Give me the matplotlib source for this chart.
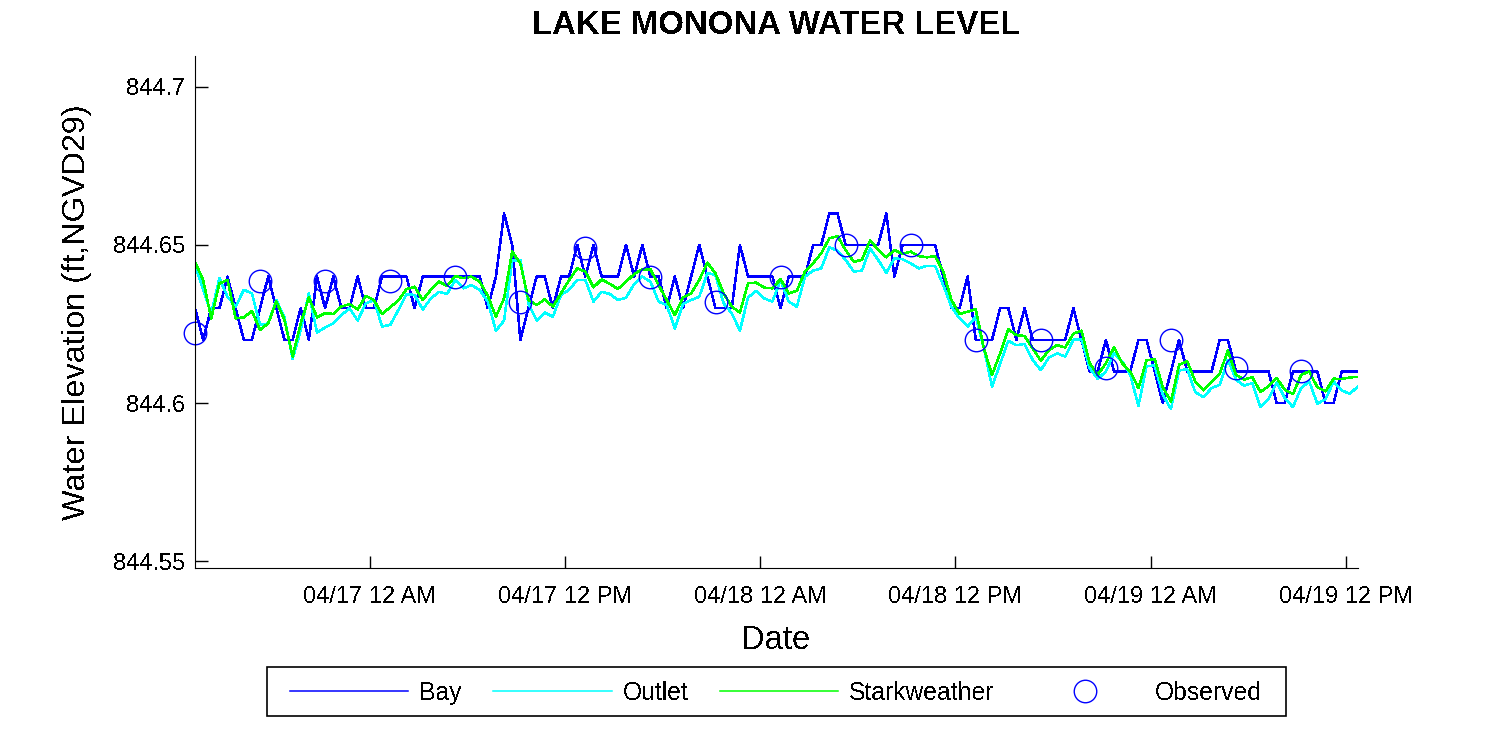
import pandas as pd
from matplotlib import pyplot as plt
from matplotlib.patches import Rectangle

plt.rcParams['font.family'] = ['Liberation Sans', 'DejaVu Sans']
plt.rcParams['text.antialiased'] = False

# half hourly model output, values in ft above NGVD29
times = pd.date_range('2013-04-16 13:15', periods=144, freq='30min')

bay = [
    844.63, 844.62, 844.63, 844.63, 844.64, 844.63, 844.62, 844.62, 844.63, 844.64, 844.63, 844.62,
    844.62, 844.63, 844.62, 844.64, 844.63, 844.64, 844.63, 844.63, 844.64, 844.63, 844.63, 844.64,
    844.64, 844.64, 844.64, 844.63, 844.64, 844.64, 844.64, 844.64, 844.64, 844.64, 844.64, 844.64,
    844.63, 844.64, 844.66, 844.65, 844.62, 844.63, 844.64, 844.64, 844.63, 844.64, 844.64, 844.65,
    844.64, 844.65, 844.64, 844.64, 844.64, 844.65, 844.64, 844.65, 844.64, 844.64, 844.63, 844.64,
    844.63, 844.64, 844.65, 844.64, 844.63, 844.63, 844.63, 844.65, 844.64, 844.64, 844.64, 844.64,
    844.63, 844.64, 844.64, 844.64, 844.65, 844.65, 844.66, 844.66, 844.65, 844.65, 844.65, 844.65,
    844.65, 844.66, 844.64, 844.65, 844.65, 844.65, 844.65, 844.65, 844.64, 844.63, 844.63, 844.64,
    844.62, 844.62, 844.62, 844.63, 844.63, 844.62, 844.63, 844.62, 844.62, 844.62, 844.62, 844.62,
    844.63, 844.62, 844.61, 844.61, 844.62, 844.61, 844.61, 844.61, 844.62, 844.62, 844.61, 844.60,
    844.61, 844.62, 844.61, 844.61, 844.61, 844.61, 844.62, 844.62, 844.61, 844.61, 844.61, 844.61,
    844.61, 844.60, 844.60, 844.61, 844.61, 844.61, 844.61, 844.60, 844.60, 844.61, 844.61, 844.61,
]

outlet = [
    844.6437, 844.6358, 844.6284, 844.6395, 844.6336, 844.6305, 844.6358, 844.6347, 844.6247, 844.6252, 844.6326, 844.6271,
    844.6139, 844.6231, 844.6347, 844.6223, 844.6239, 844.6252, 844.6278, 844.6300, 844.6261, 844.6315, 844.6326, 844.6242,
    844.6247, 844.6294, 844.6344, 844.6342, 844.6296, 844.6331, 844.6352, 844.6345, 844.6389, 844.6363, 844.6373, 844.6358,
    844.6321, 844.6229, 844.6261, 844.6450, 844.6453, 844.6315, 844.6261, 844.6286, 844.6273, 844.6342, 844.6358, 844.6389,
    844.6389, 844.6321, 844.6352, 844.6345, 844.6326, 844.6333, 844.6377, 844.6400, 844.6384, 844.6321, 844.6310, 844.6236,
    844.6313, 844.6326, 844.6336, 844.6412, 844.6405, 844.6315, 844.6284, 844.6229, 844.6334, 844.6355, 844.6331, 844.6321,
    844.6389, 844.6321, 844.6305, 844.6400, 844.6419, 844.6426, 844.6493, 844.6482, 844.6453, 844.6416, 844.6419, 844.6489,
    844.6453, 844.6412, 844.6458, 844.6455, 844.6442, 844.6426, 844.6434, 844.6434, 844.6373, 844.6305, 844.6268, 844.6242,
    844.6273, 844.6173, 844.6052, 844.6125, 844.6197, 844.6183, 844.6187, 844.6136, 844.6104, 844.6144, 844.6157, 844.6147,
    844.6200, 844.6202, 844.6111, 844.6076, 844.6100, 844.6158, 844.6132, 844.6089, 844.5991, 844.6116, 844.6119, 844.6026,
    844.5981, 844.6103, 844.6107, 844.6034, 844.6019, 844.6047, 844.6058, 844.6137, 844.6074, 844.6055, 844.6063, 844.5987,
    844.6012, 844.6065, 844.6016, 844.5987, 844.6047, 844.6068, 844.5998, 844.6012, 844.6068, 844.6040, 844.6029, 844.6053,
]

starkweather = [
    844.6447, 844.6389, 844.6268, 844.6379, 844.6389, 844.6268, 844.6271, 844.6291, 844.6231, 844.6252, 844.6321, 844.6263,
    844.6147, 844.6252, 844.6334, 844.6271, 844.6284, 844.6282, 844.6305, 844.6313, 844.6296, 844.6339, 844.6326, 844.6281,
    844.6303, 844.6324, 844.6360, 844.6368, 844.6326, 844.6358, 844.6384, 844.6370, 844.6402, 844.6395, 844.6400, 844.6384,
    844.6340, 844.6273, 844.6331, 844.6479, 844.6442, 844.6326, 844.6310, 844.6328, 844.6305, 844.6347, 844.6389, 844.6426,
    844.6416, 844.6366, 844.6391, 844.6377, 844.6361, 844.6384, 844.6408, 844.6423, 844.6423, 844.6373, 844.6326, 844.6278,
    844.6334, 844.6347, 844.6389, 844.6444, 844.6410, 844.6347, 844.6305, 844.6286, 844.6379, 844.6381, 844.6365, 844.6363,
    844.6392, 844.6347, 844.6355, 844.6416, 844.6442, 844.6474, 844.6521, 844.6528, 844.6484, 844.6447, 844.6453, 844.6514,
    844.6486, 844.6461, 844.6484, 844.6472, 844.6479, 844.6465, 844.6461, 844.6465, 844.6416, 844.6326, 844.6282, 844.6289,
    844.6297, 844.6173, 844.6089, 844.6157, 844.6233, 844.6215, 844.6212, 844.6173, 844.6134, 844.6168, 844.6183, 844.6176,
    844.6219, 844.6229, 844.6126, 844.6089, 844.6126, 844.6176, 844.6126, 844.6100, 844.6047, 844.6135, 844.6139, 844.6050,
    844.6005, 844.6121, 844.6132, 844.6068, 844.6040, 844.6068, 844.6093, 844.6166, 844.6089, 844.6074, 844.6082, 844.6035,
    844.6053, 844.6079, 844.6042, 844.6028, 844.6089, 844.6100, 844.6050, 844.6037, 844.6077, 844.6076, 844.6081, 844.6083,
]

# gauge readings, one every 4 hours
obs_times = pd.date_range('2013-04-16 13:15', periods=18, freq='4h')
observed = [
    844.622, 844.6386, 844.6386, 844.6386, 844.64, 844.632, 844.649, 844.64, 844.632,
    844.64, 844.65, 844.65, 844.62, 844.62, 844.611, 844.62, 844.611, 844.61,
]

y_ticks = [844.55, 844.6, 844.65, 844.7]
y_labels = ['844.55', '844.6', '844.65', '844.7']
x_ticks = pd.date_range('2013-04-17 00:00', periods=6, freq='12h')
x_labels = ['04/17 12 AM', '04/17 12 PM', '04/18 12 AM', '04/18 12 PM', '04/19 12 AM', '04/19 12 PM']

fig = plt.figure(figsize=(15, 7.5), dpi=100)
ax = fig.add_axes([195 / 1500, 1 - 568 / 750, (1358 - 195) / 1500, (568 - 56) / 750])

ax.plot(times, bay, color='#0000ff', lw=1.1, antialiased=False, label='Bay')
ax.plot(times, outlet, color='#00ffff', lw=1.1, antialiased=False, label='Outlet')
ax.plot(times, starkweather, color='#00ff00', lw=1.1, antialiased=False, label='Starkweather')
ax.plot(obs_times, observed, ls='none', marker='o', ms=16.2, mfc='none', mec='#0000ff', mew=1.0,
        clip_on=False, label='Observed')

ax.set_xlim(times[0], times[-1])
ax.set_ylim(844.5478, 844.7098)
ax.set_xticks(x_ticks)
ax.set_xticklabels(x_labels)
ax.set_yticks(y_ticks)
ax.set_yticklabels(y_labels)
ax.tick_params(axis='x', direction='in', length=9, width=1, labelsize=17, pad=13)
ax.tick_params(axis='y', direction='in', length=9, width=1, labelsize=17, pad=7)
ax.minorticks_off()

ax.spines['top'].set_visible(False)
ax.spines['right'].set_visible(False)

ax.set_title('LAKE MONONA WATER LEVEL', fontsize=23.7, fontweight='bold', pad=16)
ax.set_xlabel('Date', fontsize=23.6, labelpad=12)
ax.set_ylabel('Water Elevation (ft,NGVD29)', fontsize=23.4, labelpad=15)

# legend box is wider than the padding allows, so the frame is drawn by hand
fig.add_artist(Rectangle((267 / 1500, 1 - 716 / 750), 1019 / 1500, 49 / 750, transform=fig.transFigure,
                         fill=False, edgecolor='black', linewidth=1.2))
ax.legend(loc='center', bbox_to_anchor=(776 / 1500, 1 - 693 / 750), bbox_transform=fig.transFigure,
          ncol=4, fontsize=17.8, handlelength=4.78, handletextpad=0.44, columnspacing=1.28,
          frameon=False)

fig.savefig('out.png', dpi=100)
